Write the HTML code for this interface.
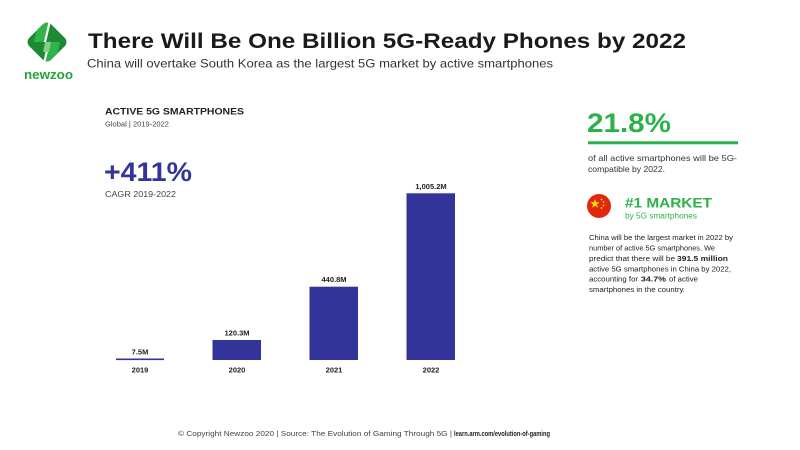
<!DOCTYPE html>
<html><head><meta charset="utf-8"><style>
html,body{margin:0;padding:0;background:#fff;}
svg{display:block;}
text{font-family:"Liberation Sans",sans-serif;}
</style></head><body>
<svg width="800" height="450" viewBox="0 0 800 450" xmlns="http://www.w3.org/2000/svg">
<rect width="800" height="450" fill="#fff"/>
<!-- logo -->
<g>
  <clipPath id="dc"><rect x="31.5" y="26.5" width="31" height="31" rx="6" transform="rotate(45 47 42)"/></clipPath>
  <rect x="31.5" y="26.5" width="31" height="31" rx="6" transform="rotate(45 47 42)" fill="#1d8a33"/>
  <g clip-path="url(#dc)">
    <polygon points="40,15 50,15 44,42 34,42" fill="#2fb34a"/>
    <polygon points="50,42 60,42 54,70 44,70" fill="#2fb34a"/>
    <line x1="51" y1="16" x2="45" y2="42" stroke="#fff" stroke-width="2.2"/>
    <line x1="49" y1="42" x2="43" y2="68" stroke="#fff" stroke-width="2.2"/>
    <polygon points="45,42 51,42 49,52 43,52" fill="#7fd08a"/>
  </g>
  <text x="48.5" y="79" font-size="12.5" font-weight="bold" fill="#24a33c" text-anchor="middle" textLength="49" lengthAdjust="spacingAndGlyphs">newzoo</text>
</g>
<!-- title -->
<text x="88" y="48" font-size="21.5" font-weight="bold" fill="#1a1a1a" textLength="598" lengthAdjust="spacingAndGlyphs">There Will Be One Billion 5G-Ready Phones by 2022</text>
<text x="87" y="67.5" font-size="12" fill="#333" textLength="466" lengthAdjust="spacingAndGlyphs">China will overtake South Korea as the largest 5G market by active smartphones</text>

<!-- left header -->
<text x="105" y="114.5" font-size="9.5" font-weight="bold" fill="#222" textLength="139" lengthAdjust="spacingAndGlyphs">ACTIVE 5G SMARTPHONES</text>
<text x="105" y="126.5" font-size="7" fill="#444" textLength="64" lengthAdjust="spacingAndGlyphs">Global | 2019-2022</text>
<text x="104" y="181" font-size="27" font-weight="bold" fill="#33349a" textLength="88" lengthAdjust="spacingAndGlyphs">+411%</text>
<text x="105" y="197" font-size="8.5" fill="#444" textLength="71" lengthAdjust="spacingAndGlyphs">CAGR 2019-2022</text>

<!-- bars -->
<rect x="116" y="358.5" width="48" height="1.6" fill="#33349a"/>
<rect x="212.5" y="340" width="48.5" height="20" fill="#33349a"/>
<rect x="309.5" y="286.7" width="48.5" height="73.3" fill="#33349a"/>
<rect x="406.5" y="193.3" width="48.5" height="166.7" fill="#33349a"/>
<g font-size="7.5" font-weight="bold" fill="#222" text-anchor="middle">
  <text x="140" y="354.5">7.5M</text>
  <text x="237" y="335.5">120.3M</text>
  <text x="334" y="282">440.8M</text>
  <text x="431" y="189">1,005.2M</text>
  <text x="140" y="372.5">2019</text>
  <text x="237" y="372.5">2020</text>
  <text x="334" y="372.5">2021</text>
  <text x="431" y="372.5">2022</text>
</g>

<!-- right panel -->
<text x="587" y="132" font-size="27" font-weight="bold" fill="#2bb24a" textLength="84" lengthAdjust="spacingAndGlyphs">21.8%</text>
<rect x="588" y="141.3" width="150" height="3" fill="#2bb24a"/>
<text x="588" y="161" font-size="8.5" fill="#333" textLength="149" lengthAdjust="spacingAndGlyphs">of all active smartphones will be 5G-</text>
<text x="588" y="172" font-size="8.5" fill="#333" textLength="77" lengthAdjust="spacingAndGlyphs">compatible by 2022.</text>

<circle cx="599" cy="206" r="12" fill="#de2910"/>
<g fill="#ffde00">
  <polygon points="595,199 596.2,202.3 599.6,202.3 596.9,204.4 597.9,207.7 595,205.7 592.1,207.7 593.1,204.4 590.4,202.3 593.8,202.3"/>
  <circle cx="601.5" cy="199.5" r="0.9"/>
  <circle cx="603.5" cy="202" r="0.9"/>
  <circle cx="603.5" cy="205.5" r="0.9"/>
  <circle cx="601.5" cy="208" r="0.9"/>
</g>
<text x="625" y="207.7" font-size="14" font-weight="bold" fill="#2bb24a" textLength="87" lengthAdjust="spacingAndGlyphs">#1 MARKET</text>
<text x="625" y="218.5" font-size="8" fill="#2bb24a" textLength="72" lengthAdjust="spacingAndGlyphs">by 5G smartphones</text>

<g font-size="7.6" fill="#222">
  <text x="589" y="240" textLength="144" lengthAdjust="spacingAndGlyphs">China will be the largest market in 2022 by</text>
  <text x="589" y="250.5" textLength="126" lengthAdjust="spacingAndGlyphs">number of active 5G smartphones. We</text>
  <text x="589" y="261" textLength="86" lengthAdjust="spacingAndGlyphs">predict that there will be</text>
  <text x="677" y="261" font-weight="bold" textLength="51" lengthAdjust="spacingAndGlyphs">391.5 million</text>
  <text x="589" y="271.3" textLength="142" lengthAdjust="spacingAndGlyphs">active 5G smartphones in China by 2022,</text>
  <text x="589" y="281.5" textLength="49" lengthAdjust="spacingAndGlyphs">accounting for</text>
  <text x="641" y="281.5" font-weight="bold" textLength="25" lengthAdjust="spacingAndGlyphs">34.7%</text>
  <text x="669" y="281.5" textLength="29" lengthAdjust="spacingAndGlyphs">of active</text>
  <text x="589" y="292" textLength="96" lengthAdjust="spacingAndGlyphs">smartphones in the country.</text>
</g>

<!-- footer -->
<text x="178" y="436" font-size="7" fill="#444" textLength="274" lengthAdjust="spacingAndGlyphs">© Copyright Newzoo 2020 | Source: The Evolution of Gaming Through 5G | </text>
<text x="454" y="436" font-size="7" font-weight="bold" fill="#222" textLength="96" lengthAdjust="spacingAndGlyphs">learn.arm.com/evolution-of-gaming</text>
</svg>
</body></html>
